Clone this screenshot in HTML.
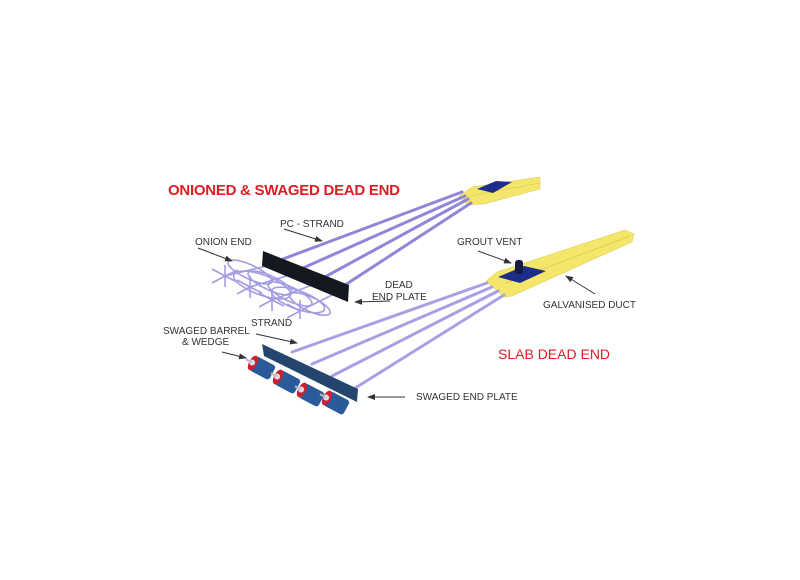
<!DOCTYPE html>
<html><head><meta charset="utf-8"><style>
html,body{margin:0;padding:0;background:#fff;}
svg{display:block;}
text{font-family:"Liberation Sans",sans-serif;}
</style></head><body>
<svg width="800" height="580" viewBox="0 0 800 580" xmlns="http://www.w3.org/2000/svg">
<defs>
<marker id="ah" markerWidth="8" markerHeight="6" refX="7" refY="3" orient="auto"><path d="M0,0 L8,3 L0,6 z" fill="#333"/></marker>
</defs>
<!-- top duct -->
<polygon points="459,196 472,187 540,177 540,189 484,204 467,205" fill="#f3e66a" stroke="#d8c840" stroke-width="0.5"/>
<line x1="470" y1="196" x2="540" y2="183" stroke="#d8c840" stroke-width="0.6"/>
<polygon points="477,189 496,181 512,182 493,193" fill="#1e2c8a"/>
<!-- top strands -->
<g stroke="#8f86d8" stroke-width="3" fill="none" stroke-linecap="round">
<line x1="283" y1="259" x2="462" y2="192"/>
<line x1="303" y1="268" x2="465" y2="196"/>
<line x1="323" y1="278" x2="468" y2="199"/>
<line x1="342" y1="287" x2="471" y2="203"/>
</g>
<!-- onion ends -->
<g stroke="#9a92e0" stroke-width="1.6" fill="none" opacity="0.9">
<ellipse cx="250" cy="272" rx="24" ry="7" transform="rotate(25 250 272)"/>
<ellipse cx="270" cy="283" rx="24" ry="7" transform="rotate(25 270 283)"/>
<ellipse cx="290" cy="294" rx="24" ry="7" transform="rotate(25 290 294)"/>
<ellipse cx="310" cy="304" rx="22" ry="7" transform="rotate(25 310 304)"/>
<ellipse cx="262" cy="285" rx="30" ry="10" transform="rotate(20 262 285)"/>
<ellipse cx="298" cy="300" rx="28" ry="9" transform="rotate(20 298 300)"/>
<path d="M225,276 l-13,-7 M225,276 l-13,7 M225,276 l0,-11 M225,276 l0,11 M225,276 l13,-6 M225,276 l12,6"/>
<path d="M250,287 l-13,-7 M250,287 l-13,7 M250,287 l0,-11 M250,287 l0,11 M250,287 l12,6"/>
<path d="M272,300 l-13,-7 M272,300 l-13,7 M272,300 l0,-11 M272,300 l0,11 M272,300 l12,6"/>
<path d="M300,311 l-13,-7 M300,311 l-13,7 M300,311 l0,-11 M300,311 l0,8"/>
<path d="M225,276 L283,262 M250,287 L303,271 M272,300 L323,281 M300,311 L342,290"/>
</g>
<polygon points="263,251 349,285 348,302 262,266" fill="#141820"/>
<!-- bottom duct -->
<polygon points="486,281 497,272 625,230 634,234 632,242 512,296 504,297" fill="#f3e66a" stroke="#d8c840" stroke-width="0.5"/>
<line x1="506" y1="283" x2="630" y2="236" stroke="#d8c840" stroke-width="0.7"/>
<polygon points="498,277 524,266 546,271 520,283" fill="#1e2c8a"/>
<rect x="515" y="260" width="8" height="14" rx="3" fill="#151a40"/>
<!-- bottom strands -->
<g stroke="#a8a0e4" stroke-width="3" fill="none" stroke-linecap="round">
<line x1="292" y1="352" x2="487" y2="283"/>
<line x1="312" y1="364" x2="492" y2="287"/>
<line x1="332" y1="376" x2="498" y2="291"/>
<line x1="352" y1="390" x2="504" y2="295"/>
</g>
<!-- swaged plate -->
<polygon points="262,344 358,389 357,402 264,356" fill="#24466e"/>
<g>
<g transform="translate(253,363) rotate(28)"><rect x="0" y="-8" width="22" height="16" rx="3" fill="#2a5a9a"/><ellipse cx="0" cy="0" rx="4" ry="8" fill="#cc2030"/><circle cx="-1" cy="0" r="3" fill="#d9d9e6"/><line x1="-8" y1="0" x2="-2" y2="0" stroke="#bbb" stroke-width="2"/></g>
<g transform="translate(278,377) rotate(28)"><rect x="0" y="-8" width="22" height="16" rx="3" fill="#2a5a9a"/><ellipse cx="0" cy="0" rx="4" ry="8" fill="#cc2030"/><circle cx="-1" cy="0" r="3" fill="#d9d9e6"/><line x1="-8" y1="0" x2="-2" y2="0" stroke="#bbb" stroke-width="2"/></g>
<g transform="translate(302,390) rotate(28)"><rect x="0" y="-8" width="22" height="16" rx="3" fill="#2a5a9a"/><ellipse cx="0" cy="0" rx="4" ry="8" fill="#cc2030"/><circle cx="-1" cy="0" r="3" fill="#d9d9e6"/><line x1="-8" y1="0" x2="-2" y2="0" stroke="#bbb" stroke-width="2"/></g>
<g transform="translate(327,398) rotate(28)"><rect x="0" y="-8" width="22" height="16" rx="3" fill="#2a5a9a"/><ellipse cx="0" cy="0" rx="4" ry="8" fill="#cc2030"/><circle cx="-1" cy="0" r="3" fill="#d9d9e6"/><line x1="-8" y1="0" x2="-2" y2="0" stroke="#bbb" stroke-width="2"/></g>
</g>
<!-- arrows -->
<g stroke="#333" stroke-width="1" marker-end="url(#ah)">
<line x1="284" y1="229" x2="322" y2="241"/>
<line x1="198" y1="248" x2="232" y2="261"/>
<line x1="390" y1="301" x2="355" y2="302"/>
<line x1="478" y1="251" x2="511" y2="263"/>
<line x1="595" y1="294" x2="566" y2="276"/>
<line x1="256" y1="334" x2="297" y2="343"/>
<line x1="222" y1="352" x2="246" y2="358"/>
<line x1="405" y1="397" x2="368" y2="397"/>
</g>
<!-- labels -->
<text x="168" y="195" font-size="15" font-weight="bold" fill="#e01b24" textLength="232">ONIONED &amp; SWAGED DEAD END</text>
<g font-size="10" fill="#333">
<text x="280" y="227">PC - STRAND</text>
<text x="195" y="245">ONION END</text>
<text x="385" y="288">DEAD</text>
<text x="372" y="300">END PLATE</text>
<text x="457" y="245">GROUT VENT</text>
<text x="543" y="308">GALVANISED DUCT</text>
<text x="251" y="326">STRAND</text>
<text x="163" y="334">SWAGED BARREL</text>
<text x="182" y="345">&amp; WEDGE</text>
<text x="416" y="400">SWAGED END PLATE</text>
</g>
<text x="498" y="359" font-size="14" fill="#e01b24">SLAB DEAD END</text>
</svg>
</body></html>
